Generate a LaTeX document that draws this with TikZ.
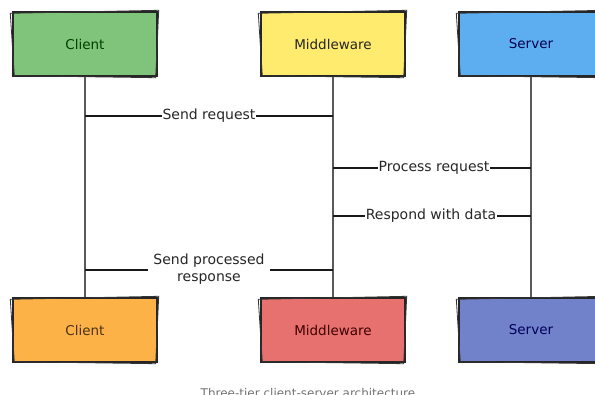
\documentclass[tikz,border=0pt]{standalone}
\usepackage{fontspec}
\setmainfont{DejaVu Sans}
\begin{document}
\begin{tikzpicture}[x=1pt,y=-1pt,
  actor/.style={minimum width=144pt,minimum height=64pt,inner sep=0pt,
    draw=black!85,line width=1.4pt,font=\fontsize{13.5}{16}\selectfont},
  sketch/.style={draw=black!80,line width=0.8pt},
  lifeline/.style={draw=black!65,line width=1.3pt},
  msg/.style={draw=black!90,line width=2pt},
  msglabel/.style={fill=white,inner sep=1pt,align=center,
    font=\fontsize{14}{16.5}\selectfont,text=black!85}]
\definecolor{cgreen}{HTML}{80C47C}
\definecolor{cyellow}{HTML}{FFEB6E}
\definecolor{cblue}{HTML}{5DAEF0}
\definecolor{corange}{HTML}{FDB247}
\definecolor{cred}{HTML}{E6716F}
\definecolor{cviolet}{HTML}{7282CA}
\useasboundingbox (0,0) rectangle (595,394);
\clip (0,0) rectangle (595,394);

% participants, top row
\node[actor,fill=cgreen,text=green!25!black] (c1) at (85,44) {Client};
\node[actor,fill=cyellow,text=black!85] (m1) at (333,44) {Middleware};
\node[actor,fill=cblue,text=blue!30!black] (s1) at (531,44) {Server};
% participants, bottom row
\node[actor,fill=corange,text=brown!40!black] (c2) at (85,330) {Client};
\node[actor,fill=cred,text=red!25!black] (m2) at (333,330) {Middleware};
\node[actor,fill=cviolet,text=blue!35!black] (s2) at (531,330) {Server};

% second pencil stroke around each box
\foreach \b in {c1,m1,s1,c2,m2,s2}{
  \draw[sketch] ([shift={(-2,2)}]\b.north west) -- ([shift={(1,-1)}]\b.north east)
    -- ([shift={(-2,1)}]\b.south east) -- ([shift={(2,-1)}]\b.south west) -- cycle;
}

% lifelines
\draw[lifeline] (c1) -- (c2);
\draw[lifeline] (m1) -- (m2);
\draw[lifeline] (s1) -- (s2);

% messages
\coordinate (r1c) at (c1 |- 0,116);
\coordinate (r1m) at (m1 |- 0,116);
\coordinate (r2m) at (m1 |- 0,168);
\coordinate (r2s) at (s1 |- 0,168);
\coordinate (r3m) at (m1 |- 0,216);
\coordinate (r3s) at (s1 |- 0,216);
\coordinate (r4c) at (c1 |- 0,270);
\coordinate (r4m) at (m1 |- 0,270);

\draw[msg] (r1c) -- node[msglabel] (l1) {Send request} (r1m);
\draw[msg] (r2m) -- node[msglabel,xshift=2pt] (l2) {Process request} (r2s);
\draw[msg] (r3m) -- node[msglabel,xshift=-1pt] (l3) {Respond with data} (r3s);
\draw[msg] (r4c) -- node[msglabel,inner xsep=5pt,yshift=1pt] (l4) {Send processed\\response} (r4m);

% caption
\node[anchor=north,text=black!55,font=\fontsize{12}{14}\selectfont] (cap) at (308,385)
  {Three-tier client-server architecture};
\end{tikzpicture}
\end{document}
